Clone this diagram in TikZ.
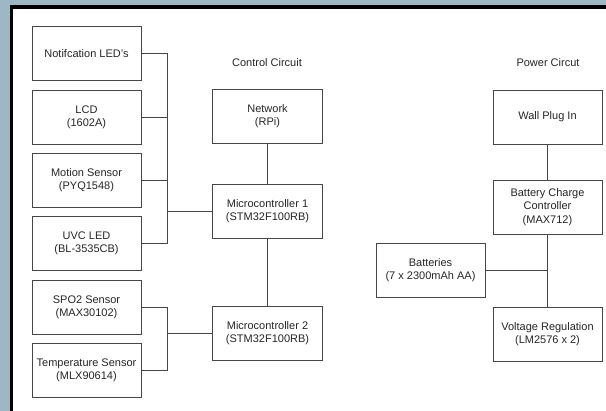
\documentclass[tikz,border=0pt]{standalone}
\usepackage{fontspec}
\setmainfont{Liberation Sans}
\definecolor{backdrop}{RGB}{158,183,196}
\definecolor{edgegray}{RGB}{70,70,70}
\begin{document}
\begin{tikzpicture}[x=1pt,y=-1pt,
    blk/.style={shape=rectangle,draw=edgegray,line width=0.9pt,minimum width=109pt,minimum height=54pt,inner sep=0pt,align=center,font=\fontsize{11}{13.3}\selectfont,text=black!85},
    wire/.style={draw=edgegray,line width=0.9pt},
    title/.style={font=\fontsize{11}{13.3}\selectfont,text=black!85}]
    \useasboundingbox (0,0) rectangle (606,411);
    \fill[backdrop] (0,0) rectangle (606,411);
    \draw[line width=3.5pt,fill=white] (11.5,7) rectangle (620,420);
    % control circuit
    \node[title] (ctrl) at (267,63) {Control Circuit};
    \node[blk] (notif) at (86.5,53.5) {Notifcation LED's};
    \node[blk] (lcd) at (86.5,117) {LCD\\(1602A)};
    \node[blk] (motion) at (86.5,180) {Motion Sensor\\(PYQ1548)};
    \node[blk] (uvc) at (86.5,243.5) {UVC LED\\(BL-3535CB)};
    \node[blk] (spo) at (86.5,307) {SPO2 Sensor\\(MAX30102)};
    \node[blk] (temp) at (86.5,370) {Temperature Sensor\\(MLX90614)};
    \node[blk,minimum width=110pt] (network) at (267.5,116.5) {Network\\(RPi)};
    \node[blk,minimum width=110pt] (mcu1) at (267.5,211.5) {Microcontroller 1\\(STM32F100RB)};
    \node[blk,minimum width=110pt] (mcu2) at (267.5,333.5) {Microcontroller 2\\(STM32F100RB)};
    \coordinate (busA) at (167.5,211.5);
    \coordinate (busB) at (167.5,333.5);
    \draw[wire] (notif.east) -| (busA);
    \draw[wire] (uvc.east) -| (busA);
    \draw[wire] (lcd.east) -- (lcd.east -| busA);
    \draw[wire] (motion.east) -- (motion.east -| busA);
    \draw[wire] (busA) -- (mcu1.west);
    \draw[wire] (spo.east) -| (busB);
    \draw[wire] (temp.east) -| (busB);
    \draw[wire] (busB) -- (mcu2.west);
    \draw[wire] (network) -- (mcu1);
    \draw[wire] (mcu1) -- (mcu2);
    % power circuit
    \node[title] (pwr) at (548,63) {Power Circut};
    \node[blk] (wall) at (547.5,117) {Wall Plug In};
    \node[blk] (charger) at (547.5,207) {Battery Charge\\Controller\\(MAX712)};
    \node[blk] (batt) at (430.5,270.5) {Batteries\\(7 x 2300mAh AA)};
    \node[blk] (vreg) at (547.5,334) {Voltage Regulation\\(LM2576 x 2)};
    \coordinate (join) at (547.5,270.5);
    \draw[wire] (wall) -- (charger);
    \draw[wire] (charger) -- (vreg);
    \draw[wire] (batt) -- (join);
\end{tikzpicture}
\end{document}
